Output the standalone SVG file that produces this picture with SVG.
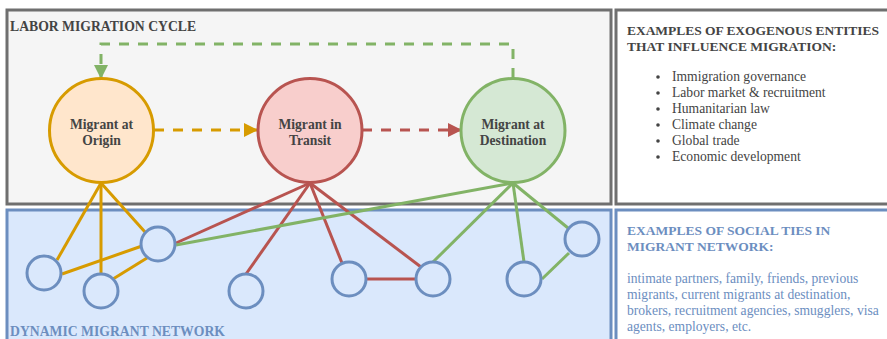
<svg xmlns="http://www.w3.org/2000/svg" width="887" height="339" viewBox="0 0 887 339">
<style>
.box{stroke-width:3}
.gray{fill:#f5f5f5;stroke:#6f6f6f}
.white{fill:#ffffff;stroke:#6f6f6f}
.blue{fill:#dae8fc;stroke:#6c8ebf}
.bluew{fill:#ffffff;stroke:#6c8ebf}
.hdr{font-family:"Liberation Serif","Times New Roman",serif;font-weight:bold;font-size:13.7px}
.hdr2{font-family:"Liberation Serif","Times New Roman",serif;font-weight:bold;font-size:13.5px}
.txt{font-family:"Liberation Serif","Times New Roman",serif;font-size:13.6px}
.dk{fill:#444}
.bl{fill:#6c8ebf}
.lbl{font-family:"Liberation Serif","Times New Roman",serif;font-weight:bold;font-size:13.6px;fill:#444;text-anchor:middle}
.or{stroke:#d79b00}
.rd{stroke:#b85450}
.gr{stroke:#82b366}
.ln{stroke-width:3;fill:none}
.dash{stroke-dasharray:10 9}
.net{fill:#dae8fc;stroke:#6c8ebf;stroke-width:3}
</style>
<defs>
<marker id="aO" markerWidth="14" markerHeight="14" refX="13" refY="7" orient="auto" markerUnits="userSpaceOnUse"><path d="M0,0 L14,7 L0,14 Z" fill="#d79b00"/></marker>
<marker id="aR" markerWidth="14" markerHeight="14" refX="13" refY="7" orient="auto" markerUnits="userSpaceOnUse"><path d="M0,0 L14,7 L0,14 Z" fill="#b85450"/></marker>
<marker id="aG" markerWidth="14" markerHeight="14" refX="13" refY="7" orient="auto" markerUnits="userSpaceOnUse"><path d="M0,0 L14,7 L0,14 Z" fill="#82b366"/></marker>
</defs>
<rect width="887" height="339" fill="#ffffff"/>
<g id="cycle-box">
<rect class="box gray" x="7" y="10" width="604" height="194"/>
<text class="hdr dk" x="10" y="31">LABOR MIGRATION CYCLE</text>
</g>
<g id="network-box">
<rect class="box blue" x="7" y="210" width="604" height="140"/>
<text class="hdr bl" x="10" y="336">DYNAMIC MIGRANT NETWORK</text>
</g>
<g id="exogenous-box">
<rect class="box white" x="616" y="10" width="285" height="194"/>
<text class="hdr2 dk" x="627" y="35" textLength="252">EXAMPLES OF EXOGENOUS ENTITIES</text>
<text class="hdr2 dk" x="627" y="51">THAT INFLUENCE MIGRATION:</text>
<g class="txt dk">
<circle cx="658" cy="77" r="1.8" fill="#444"/><text x="672" y="81">Immigration governance</text>
<circle cx="658" cy="93" r="1.8" fill="#444"/><text x="672" y="97">Labor market &amp; recruitment</text>
<circle cx="658" cy="109" r="1.8" fill="#444"/><text x="672" y="113">Humanitarian law</text>
<circle cx="658" cy="125" r="1.8" fill="#444"/><text x="672" y="129">Climate change</text>
<circle cx="658" cy="141" r="1.8" fill="#444"/><text x="672" y="145">Global trade</text>
<circle cx="658" cy="157" r="1.8" fill="#444"/><text x="672" y="161">Economic development</text>
</g>
</g>
<g id="social-ties-box">
<rect class="box bluew" x="616" y="210" width="285" height="140"/>
<text class="hdr2 bl" x="627" y="235">EXAMPLES OF SOCIAL TIES IN</text>
<text class="hdr2 bl" x="627" y="251">MIGRANT NETWORK:</text>
<g class="txt bl">
<text x="627" y="283">intimate partners, family, friends, previous</text>
<text x="627" y="299">migrants, current migrants at destination,</text>
<text x="627" y="315">brokers, recruitment agencies, smugglers, visa</text>
<text x="627" y="331">agents, employers, etc.</text>
</g>
</g>
<g id="connectors">
<path class="ln or dash" d="M154,130 H257" marker-end="url(#aO)"/>
<path class="ln rd dash" d="M362,130 H461" marker-end="url(#aR)"/>
<path class="ln gr dash" d="M513,78 V44 H101 V78" marker-end="url(#aG)"/>
<g class="ln or">
<path d="M101,183 L57,260"/>
<path d="M101,183 L101,274"/>
<path d="M101,183 L145,232"/>
<path d="M62,274 L142,246"/>
<path d="M113,279 L147,258"/>
</g>
<g class="ln rd">
<path d="M310,183 L176,243"/>
<path d="M310,183 L246,274"/>
<path d="M310,183 L342,263"/>
<path d="M310,183 L421,267"/>
<path d="M366,279 L416,279"/>
</g>
<g class="ln gr">
<path d="M513,183 L176,245"/>
<path d="M513,183 L433,262"/>
<path d="M513,183 L524,262"/>
<path d="M513,183 L568,228"/>
<path d="M542,279 L569,253"/>
</g>
</g>
<g id="origin">
<circle cx="101.5" cy="130.5" r="52" fill="#ffe6cc" stroke="#d79b00" stroke-width="3"/>
<text class="lbl" x="101.5" y="129">Migrant at</text>
<text class="lbl" x="101.5" y="145">Origin</text>
</g>
<g id="transit">
<circle cx="310" cy="130.5" r="52" fill="#f8cecc" stroke="#b85450" stroke-width="3"/>
<text class="lbl" x="310" y="129">Migrant in</text>
<text class="lbl" x="310" y="145">Transit</text>
</g>
<g id="destination">
<circle cx="513" cy="130.5" r="52" fill="#d5e8d4" stroke="#82b366" stroke-width="3"/>
<text class="lbl" x="513" y="129">Migrant at</text>
<text class="lbl" x="513" y="145">Destination</text>
</g>
<g id="n1"><circle class="net" cx="44" cy="273" r="17"/></g>
<g id="n2"><circle class="net" cx="101" cy="291" r="17"/></g>
<g id="n3"><circle class="net" cx="158" cy="244" r="17"/></g>
<g id="n4"><circle class="net" cx="246" cy="291" r="17"/></g>
<g id="n5"><circle class="net" cx="349" cy="279" r="17"/></g>
<g id="n6"><circle class="net" cx="433" cy="279" r="17"/></g>
<g id="n7"><circle class="net" cx="524" cy="279" r="17"/></g>
<g id="n8"><circle class="net" cx="582" cy="239" r="17"/></g>
</svg>
